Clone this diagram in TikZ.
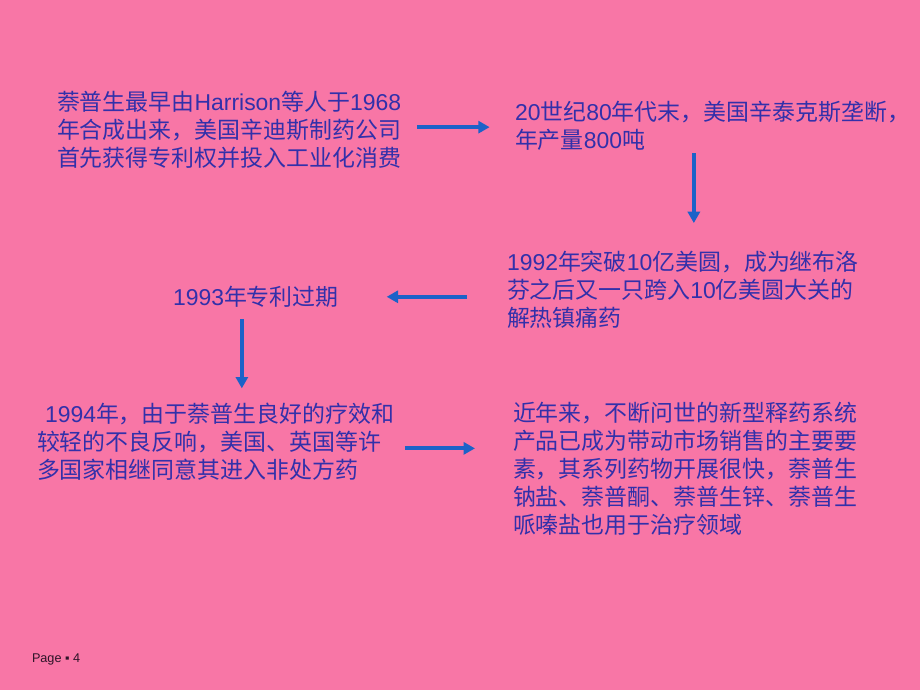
\documentclass[tikz,border=0pt]{standalone}
\usepackage{fontspec}
\setmainfont{Noto Sans CJK SC}
\newfontfamily\latinfont{Liberation Sans}
\newcommand{\en}[1]{{\latinfont #1}}
\usetikzlibrary{arrows.meta}
\definecolor{slidebg}{RGB}{248,118,166}
\definecolor{stepblue}{RGB}{50,48,170}
\definecolor{arrowblue}{RGB}{28,98,200}
\definecolor{footgray}{RGB}{45,20,40}

\begin{document}
\begin{tikzpicture}[x=0.75pt,y=-0.75pt]
  \tikzset{every node/.style={inner sep=0pt,outer sep=0pt},
    stepnote/.style={anchor=base west,align=left,text=stepblue,
      font=\fontsize{17.2}{21}\selectfont},
    flow/.style={draw=arrowblue,line width=3pt,-{Triangle[length=8.5pt,width=9pt]}}}
  \fill[slidebg] (0,0) rectangle (920,690);
  \node[stepnote] (origin) at (57,166.5)
    {萘普生最早由\en{Harrison}等人于\en{1968}\\年合成出来，美国辛迪斯制药公司\\首先获得专利权并投入工业化消费};
  \node[stepnote] (syntex) at (515,148.5)
    {\en{20}世纪\en{80}年代末，美国辛泰克斯垄断，\\年产量\en{800}吨};
  \node[stepnote] (billion) at (507,326.5)
    {\en{1992}年突破\en{10}亿美圆，成为继布洛\\芬之后又一只跨入\en{10}亿美圆大关的\\解热镇痛药};
  \node[stepnote] (expiry) at (173,305.5) {\en{1993}年专利过期};
  \node[stepnote] (otc) at (37,478.5)
    {\hspace*{6pt}\en{1994}年，由于萘普生良好的疗效和\\较轻的不良反响，美国、英国等许\\多国家相继同意其进入非处方药};
  \node[stepnote] (newforms) at (513,533.5)
    {近年来，不断问世的新型释药系统\\产品已成为带动市场销售的主要要\\素，其系列药物开展很快，萘普生\\钠盐、萘普酮、萘普生锌、萘普生\\哌嗪盐也用于治疗领域};
  \node[anchor=base west,text=footgray,font=\latinfont\fontsize{9.5}{11}\selectfont]
    (page) at (32,662) {Page ▪ 4};
  \draw[flow,shorten <=12pt,shorten >=19pt] ([yshift=2pt]origin.east) -- ([yshift=2pt]origin.east -| syntex.west);
  \draw[flow,shorten <=2pt,shorten >=21pt] ([xshift=-14pt]syntex.south) -- ([xshift=-14pt]syntex.south |- billion.north);
  \draw[flow,shorten <=30pt,shorten >=36pt] (expiry.east -| billion.west) -- (expiry.east);
  \draw[flow,shorten <=9pt,shorten >=11pt] ([xshift=-10.5pt]expiry.south) -- ([xshift=-10.5pt]expiry.south |- otc.north);
  \draw[flow,shorten <=8pt,shorten >=28.5pt] ([yshift=-5pt]otc.east) -- ([yshift=-5pt]otc.east -| newforms.west);
\end{tikzpicture}
\end{document}
